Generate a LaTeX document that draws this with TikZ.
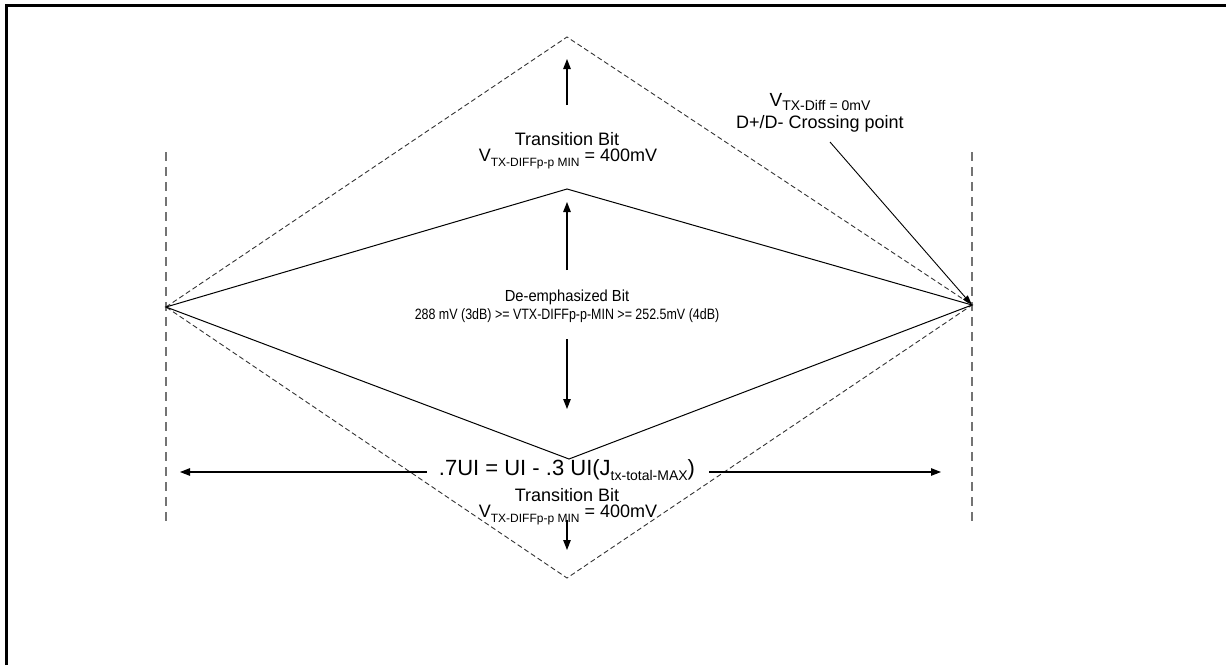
\documentclass[tikz,border=0pt]{standalone}
\usepackage{fontspec}
\setmainfont{Liberation Sans}
\usetikzlibrary{arrows.meta}
\newcommand{\lowsub}[2]{\raisebox{-0.45ex}{\fontsize{#1}{#1}\selectfont #2}}
\newcommand{\fs}[1]{\fontsize{#1}{#1}\selectfont}
\begin{document}
\begin{tikzpicture}[x=1pt,y=-1pt,
  every node/.style={inner sep=0pt, font=\fs{18}},
  outerline/.style={dashed, dash pattern=on 5pt off 3pt, line width=0.9pt, black!80},
  guide/.style={dash pattern=on 9pt off 6pt, line width=1.1pt, black!55},
  eye/.style={line width=1pt},
  arr/.style={line width=1.1pt, -{Triangle[length=10pt,width=7.5pt]}}]
\useasboundingbox (0,0) rectangle (1226,665);
% frame (top and left only)
\draw[line width=2.5pt] (6.5,665) -- (6.5,5.5) -- (1226,5.5);
% key points
\coordinate (L) at (166,307);
\coordinate (R) at (972,305);
\coordinate (T) at (567,37);
\coordinate (B) at (567,578);
\coordinate (t) at (567,189);
\coordinate (b) at (569,459);
% vertical guides
\coordinate (gl1) at (166,152); \coordinate (gl2) at (166,522);
\coordinate (gr1) at (972,152); \coordinate (gr2) at (972,522);
\draw[guide] (gl1) -- (gl2);
\draw[guide] (gr1) -- (gr2);
% outer dashed diamond
\draw[outerline] (L) -- (T) -- (R) -- (B) -- cycle;
% inner eye
\draw[eye] (L) -- (t) -- (R) -- (b) -- cycle;
% texts
\node (tb1) at (567,139) {Transition Bit};
\node (v1) at (568,159) {V\lowsub{12}{TX-DIFFp-p MIN} = 400mV};
\node[font=\fs{16}, xscale=0.92] (de) at (567,297) {De-emphasized Bit};
\node[font=\fs{15}, xscale=0.83] (dv) at (567,316) {288 mV (3dB) >= VTX-DIFFp-p-MIN >= 252.5mV (4dB)};
\node[font=\fs{22}] (ui) at (567,470) {.7UI = UI - .3 UI(J\lowsub{14}{tx-total-MAX})};
\node (tb2) at (567,495) {Transition Bit};
\node (v2) at (568,515) {V\lowsub{12}{TX-DIFFp-p MIN} = 400mV};
\node[font=\fs{19}] (vx) at (820,102) {V\lowsub{14}{TX-Diff = 0mV}};
\node (cp) at (820,124) {D+/D- Crossing point};
% arrows
\coordinate (a1s) at (567,105); \coordinate (a1e) at (567,59);
\draw[arr] (a1s) -- (a1e);
\coordinate (a2s) at (567,270); \coordinate (a2e) at (567,202);
\draw[arr] (a2s) -- (a2e);
\coordinate (a3s) at (567,339); \coordinate (a3e) at (567,409);
\draw[arr] (a3s) -- (a3e);
\coordinate (a4s) at (567,520); \coordinate (a4e) at (567,550);
\draw[arr] (a4s) -- (a4e);
\coordinate (hl) at (180,472); \coordinate (hr) at (941,472);
\path (ui.west) ++(-12,0) coordinate (uiw0);
\path (ui.east) ++(14,0) coordinate (uie0);
\coordinate (uiw) at (uiw0 |- hl);
\coordinate (uie) at (uie0 |- hr);
\draw[arr] (uiw) -- (hl);
\draw[arr] (uie) -- (hr);
\coordinate (cps) at (830,142);
\draw[line width=0.9pt, -{Triangle[length=10pt,width=6pt]}] (cps) -- (R);
\end{tikzpicture}
\end{document}
